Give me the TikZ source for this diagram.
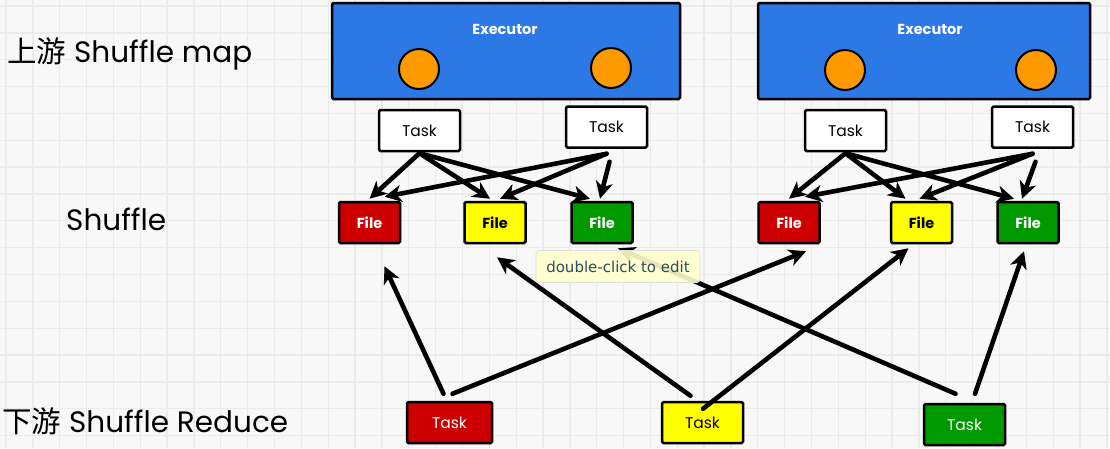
\documentclass[tikz,border=0pt]{standalone}
\usepackage{fontspec}
\setmainfont{Poppins}
\newfontfamily\cjk{Noto Sans CJK SC}
\newfontfamily\tipfont{DejaVu Sans}
\usetikzlibrary{arrows.meta,calc}

\definecolor{bgc}{HTML}{F8F8F8}
\definecolor{gridc}{HTML}{EBEBEB}
\definecolor{execblue}{HTML}{2C78E4}
\definecolor{coreorange}{HTML}{FF9900}
\definecolor{filered}{HTML}{CC0000}
\definecolor{fileyellow}{HTML}{FFFF00}
\definecolor{filegreen}{HTML}{009900}
\definecolor{tipbg}{HTML}{FFFFCC}
\definecolor{tiptext}{HTML}{2E4C5C}

\begin{document}
\begin{tikzpicture}[x=1pt,y=-1pt,
  box/.style={draw=black,line width=2.5pt,rounded corners=1.5pt,inner sep=0pt},
  exec/.style={box,fill=execblue},
  core/.style={circle,draw=black,line width=2pt,fill=coreorange,minimum size=40pt,inner sep=0pt},
  execlabel/.style={text=white,font=\fontsize{14.5}{16}\selectfont\bfseries},
  taskbox/.style={box,fill=white,minimum width=81pt,minimum height=41pt,font=\fontsize{15.5}{17}\selectfont},
  filebox/.style={box,minimum width=61pt,minimum height=41pt,font=\fontsize{14.5}{16}\selectfont\bfseries},
  redbox/.style={fill=filered,text=white},
  yellowbox/.style={fill=fileyellow,text=black},
  greenbox/.style={fill=filegreen,text=white},
  rowlabel/.style={anchor=base west,inner sep=0pt,font=\fontsize{29.5}{32}\selectfont},
  arr/.style={line width=4.6pt,line cap=round,-{Stealth[length=17pt,width=17pt,inset=5pt]}},
  tip/.style={fill=tipbg,fill opacity=0.9,text opacity=1,draw=black!12,line width=0.6pt,
    rounded corners=3pt,minimum width=164pt,minimum height=32pt,inner sep=0pt,
    text=tiptext,font=\tipfont\fontsize{15}{17}\selectfont},
]
% canvas and grid
\fill[bgc] (0,0) rectangle (1110,448);
\useasboundingbox (0,0) rectangle (1110,448);
\foreach \i in {0,...,41} {
  \draw[gridc,line width=1.3pt] ({6+26.85*\i},0) -- ({6+26.85*\i},448);
}
\foreach \j in {0,...,16} {
  \draw[gridc,line width=1.3pt] (0,{6+26.85*\j}) -- (1110,{6+26.85*\j});
}

% row labels
\node[rowlabel] (lblmap) at (7,62) {{\cjk 上游} Shuffle map};
\node[rowlabel] (lblshuffle) at (66,230) {Shuffle};
\node[rowlabel] (lblreduce) at (2,432) {{\cjk 下游} Shuffle Reduce};

% executors
\node[exec,minimum width=348pt,minimum height=96pt] (ex1) at (506,51) {};
\node[execlabel] (ex1lbl) at (505,29) {Executor};
\node[core] (c1) at (419,69) {};
\node[core] (c2) at (611,68) {};
\node[exec,minimum width=332pt,minimum height=96pt] (ex2) at (924,51) {};
\node[execlabel] (ex2lbl) at (930,29) {Executor};
\node[core] (c3) at (845,70) {};
\node[core] (c4) at (1036,70) {};

% map tasks
\node[taskbox] (t1) at (419.5,130.5) {Task};
\node[taskbox] (t2) at (606.5,127) {Task};
\node[taskbox] (t3) at (845.5,130.5) {Task};
\node[taskbox] (t4) at (1032.5,127) {Task};

% shuffle files
\node[filebox,redbox] (f1) at (369.5,222.5) {File};
\node[filebox,yellowbox] (f2) at (495,222.5) {File};
\node[filebox,greenbox] (f3) at (602,222.5) {File};
\node[filebox,redbox] (f4) at (789,222.5) {File};
\node[filebox,yellowbox] (f5) at (921.5,222.5) {File};
\node[filebox,greenbox] (f6) at (1028,222.5) {File};

% reduce tasks
\node[taskbox,redbox,minimum width=85pt] (r1) at (449.5,422.5) {Task};
\node[taskbox,yellowbox] (r2) at (702.5,422.5) {Task};
\node[taskbox,greenbox] (r3) at (964.5,424.5) {Task};

% map tasks write their files
\draw[arr] ($(t1.south)+(0,1)$) -- ($(f1.north)+(0,-2)$);
\draw[arr] ($(t1.south)+(0,1)$) -- ($(f2.north)+(-5,-2)$);
\draw[arr] ($(t1.south)+(0,1)$) -- ($(f3.north)+(-12,-2)$);
\draw[arr] ($(t2.south)+(0,5)$) -- ($(f1.north)+(15,-4)$);
\draw[arr] ($(t2.south)+(0,5)$) -- ($(f2.north)+(5,-2)$);
\draw[arr] ($(t2.south)+(3,13)$) -- ($(f3.north)+(-2,-2)$);

\draw[arr] ($(t3.south)+(0,1)$) -- ($(f4.north)+(0,-2)$);
\draw[arr] ($(t3.south)+(0,1)$) -- ($(f5.north)+(-16,-2)$);
\draw[arr] ($(t3.south)+(0,1)$) -- ($(f6.north)+(-14,-2)$);
\draw[arr] ($(t4.south)+(0,5)$) -- ($(f4.north)+(16,-4)$);
\draw[arr] ($(t4.south)+(0,5)$) -- ($(f5.north)+(-2,-2)$);
\draw[arr] ($(t4.south)+(3,13)$) -- ($(f6.north)+(-6,-2)$);

% reduce tasks fetch their files
\draw[arr] ($(r1.north)+(-6,-7)$) -- ($(f1.south)+(15,22)$);
\draw[arr] ($(r1.north)+(3,-7)$) -- ($(f4.south)+(17,7)$);
\draw[arr] ($(r2.north)+(-12,-5)$) -- ($(f2.south)+(2,13)$);
\draw[arr] ($(r2.north)+(0.5,8)$) -- ($(f5.south)+(-13,4)$);
\draw[arr] ($(r3.north)+(-9,-9)$) -- ($(f3.south)+(16,4)$);
\draw[arr] ($(r3.north)+(10.5,-9)$) -- ($(f6.south)+(-4,7)$);

% editor hint
\node[tip] (hint) at (618,266.5) {double-click to edit};
\end{tikzpicture}
\end{document}
